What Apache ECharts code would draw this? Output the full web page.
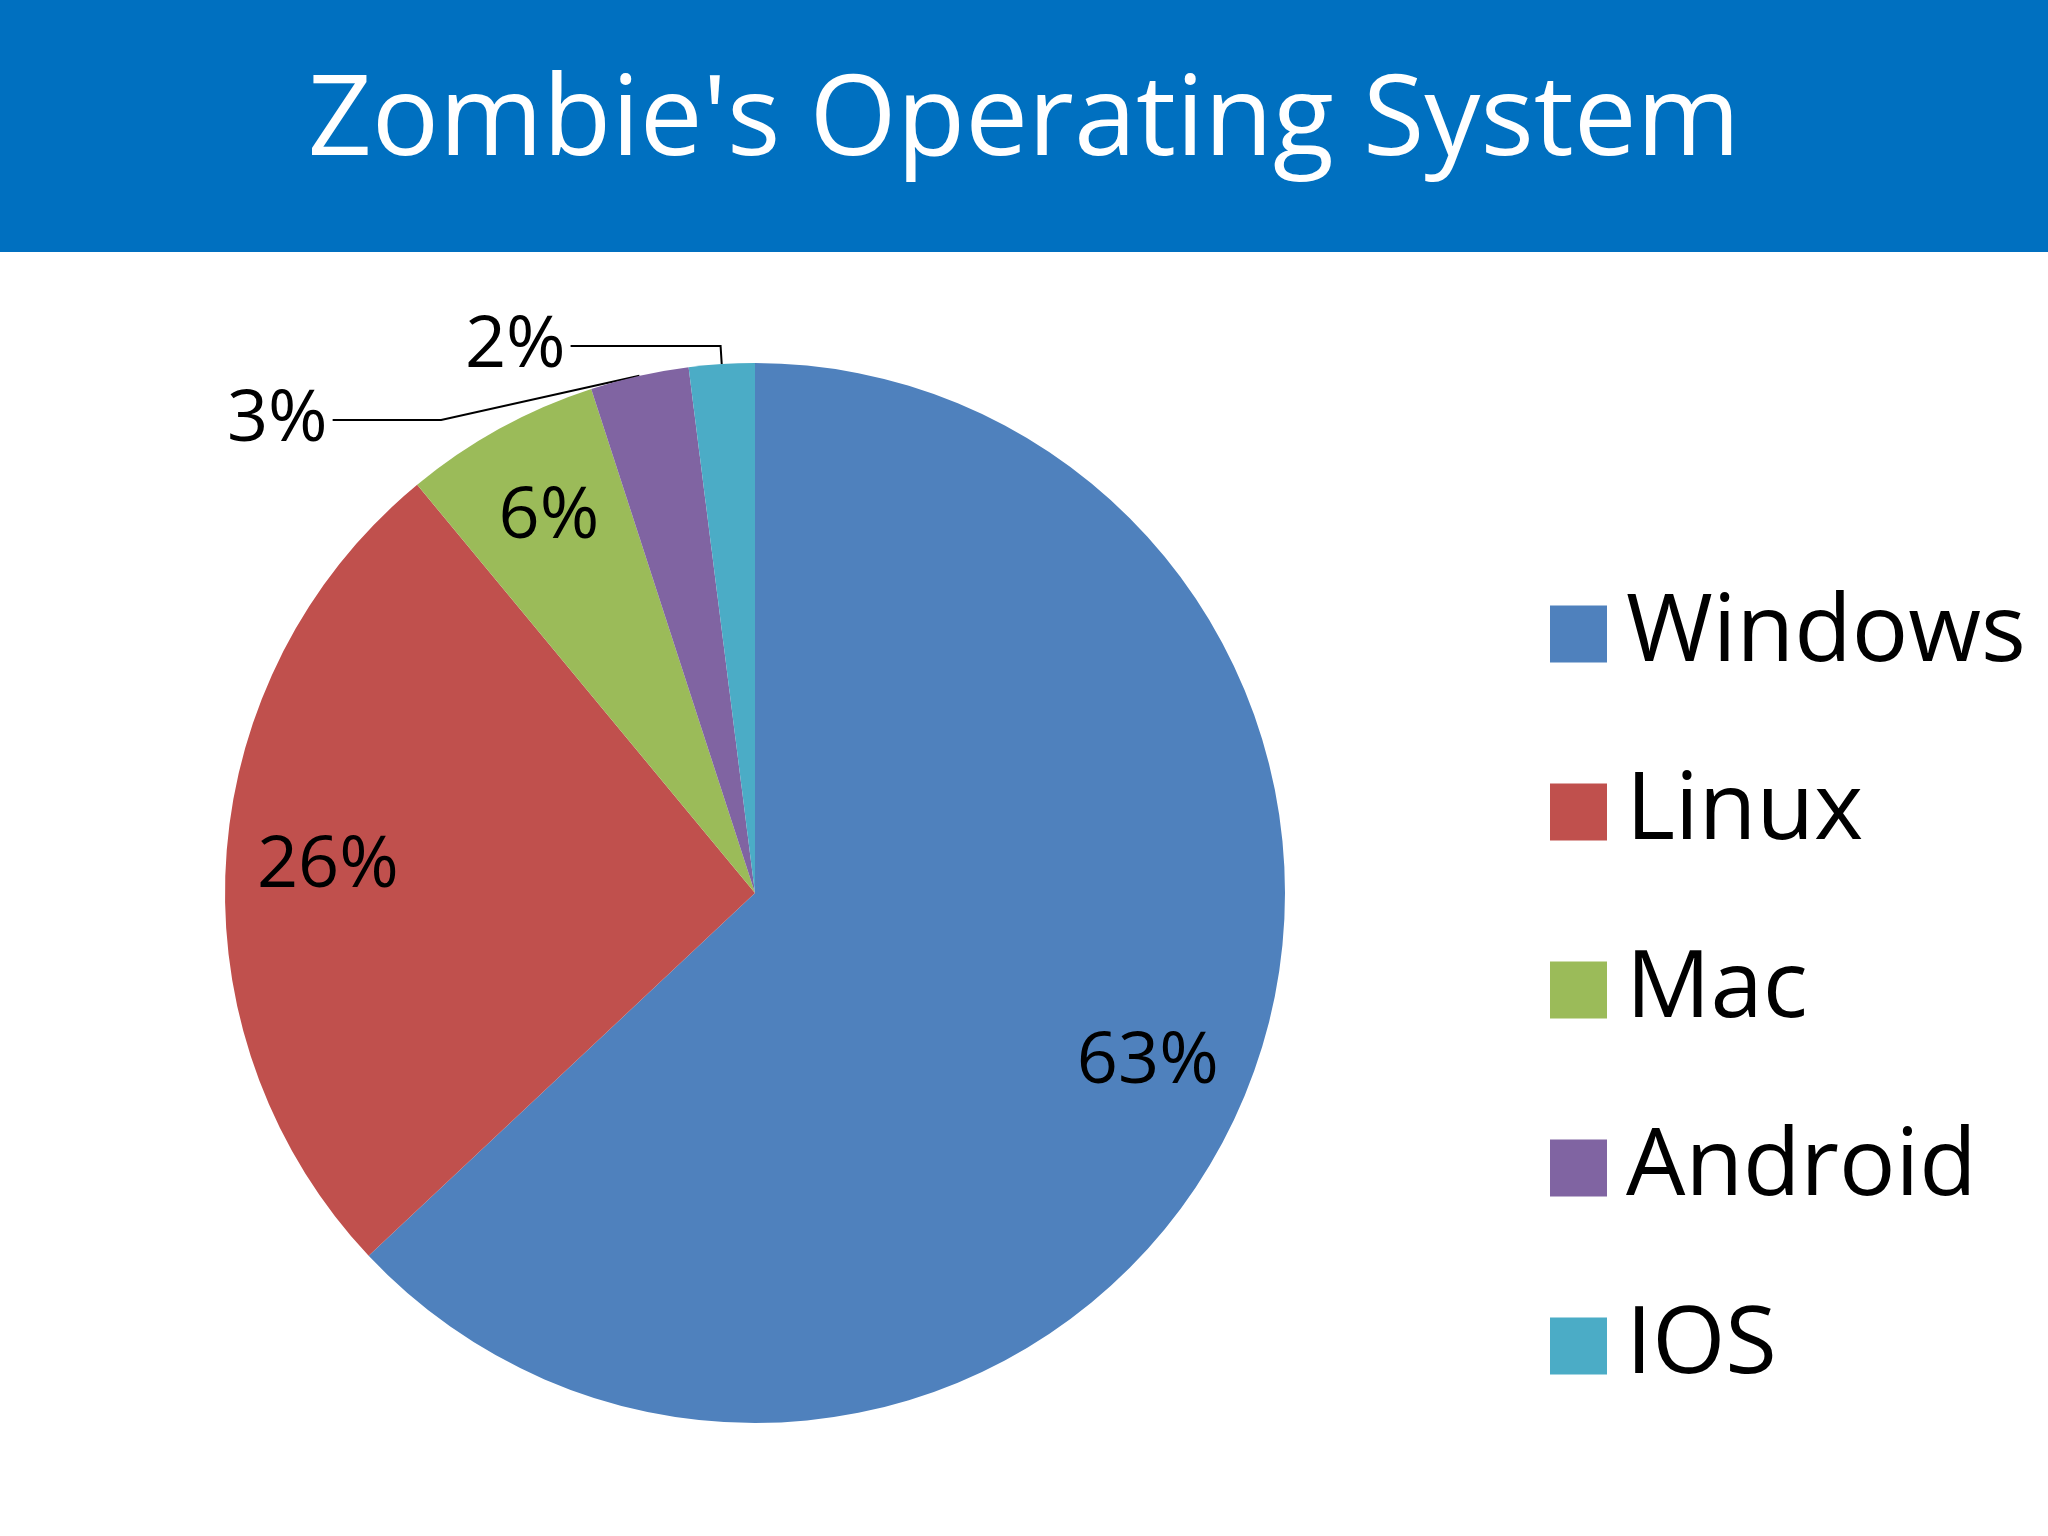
<!DOCTYPE html>
<html lang="en">
<head>
    <meta charset="UTF-8"/>
    <title>Zombie's Operating System</title>
    <style>
        html, body { margin: 0; padding: 0; width: 2048px; height: 1536px; background: #fff; overflow: hidden; }
        #chart { width: 2048px; height: 1536px; }
    </style>
</head>
<body>
<div id="chart"></div>
<script src="https://cdn.jsdelivr.net/npm/echarts@6/dist/echarts.min.js"></script>
<script>
    const categories = ['Windows', 'Linux', 'Mac', 'Android', 'IOS'];
    const shares = [63, 26, 6, 3, 2];
    const colors = ['#4F81BD', '#C0504D', '#9BBB59', '#8064A2', '#4BACC6'];
    const outsideLabels = ['Android', 'IOS'];

    const chart = echarts.init(document.getElementById('chart'));
    const font = '"Open Sans", "Noto Sans", sans-serif';
    const center = [755, 893];

    const option = {
        color: colors,
        animation: false,
        graphic: [{
            type: 'rect', shape: {x: 0, y: 0, width: 2048, height: 252},
            style: {fill: '#0070C0'}, z: -1
        }],
        title: {
            text: "Zombie's Operating System",
            left: 'center', top: 62,
            textStyle: {color: '#fff', fontSize: 112, fontWeight: 'normal', fontFamily: font}
        },
        legend: {
            orient: 'vertical',
            left: 1545, top: 582,
            itemWidth: 57, itemHeight: 57, itemGap: 84,
            icon: 'rect',
            data: categories,
            textStyle: {fontSize: 94, fontFamily: font, color: '#000', padding: [0, 0, 0, 14]}
        },
        series: [
            {
                type: 'pie',
                center: center,
                radius: [0, 530],
                startAngle: 90,
                clockwise: true,
                label: {
                    show: true, position: 'outside', formatter: '{c}%',
                    fontSize: 72, fontFamily: font, color: '#000'
                },
                labelLine: {show: true, length: 18, length2: 150, lineStyle: {color: '#000', width: 2}},
                data: categories.map((name, i) => ({
                    name: name, value: shares[i],
                    label: {show: outsideLabels.includes(name)},
                    labelLine: {show: outsideLabels.includes(name)}
                }))
            },
            {
                type: 'pie',
                center: center,
                radius: [320, 530],
                startAngle: 90,
                silent: true,
                legendHoverLink: false,
                itemStyle: {color: 'transparent'},
                label: {
                    show: true, position: 'inside', formatter: '{c}%',
                    fontSize: 72, fontFamily: font, color: '#000'
                },
                labelLine: {show: false},
                data: categories.map((name, i) => ({
                    name: name + ' ', value: shares[i],
                    label: {show: !outsideLabels.includes(name)}
                }))
            }
        ]
    };
    chart.setOption(option);
</script>
</body>
</html>
